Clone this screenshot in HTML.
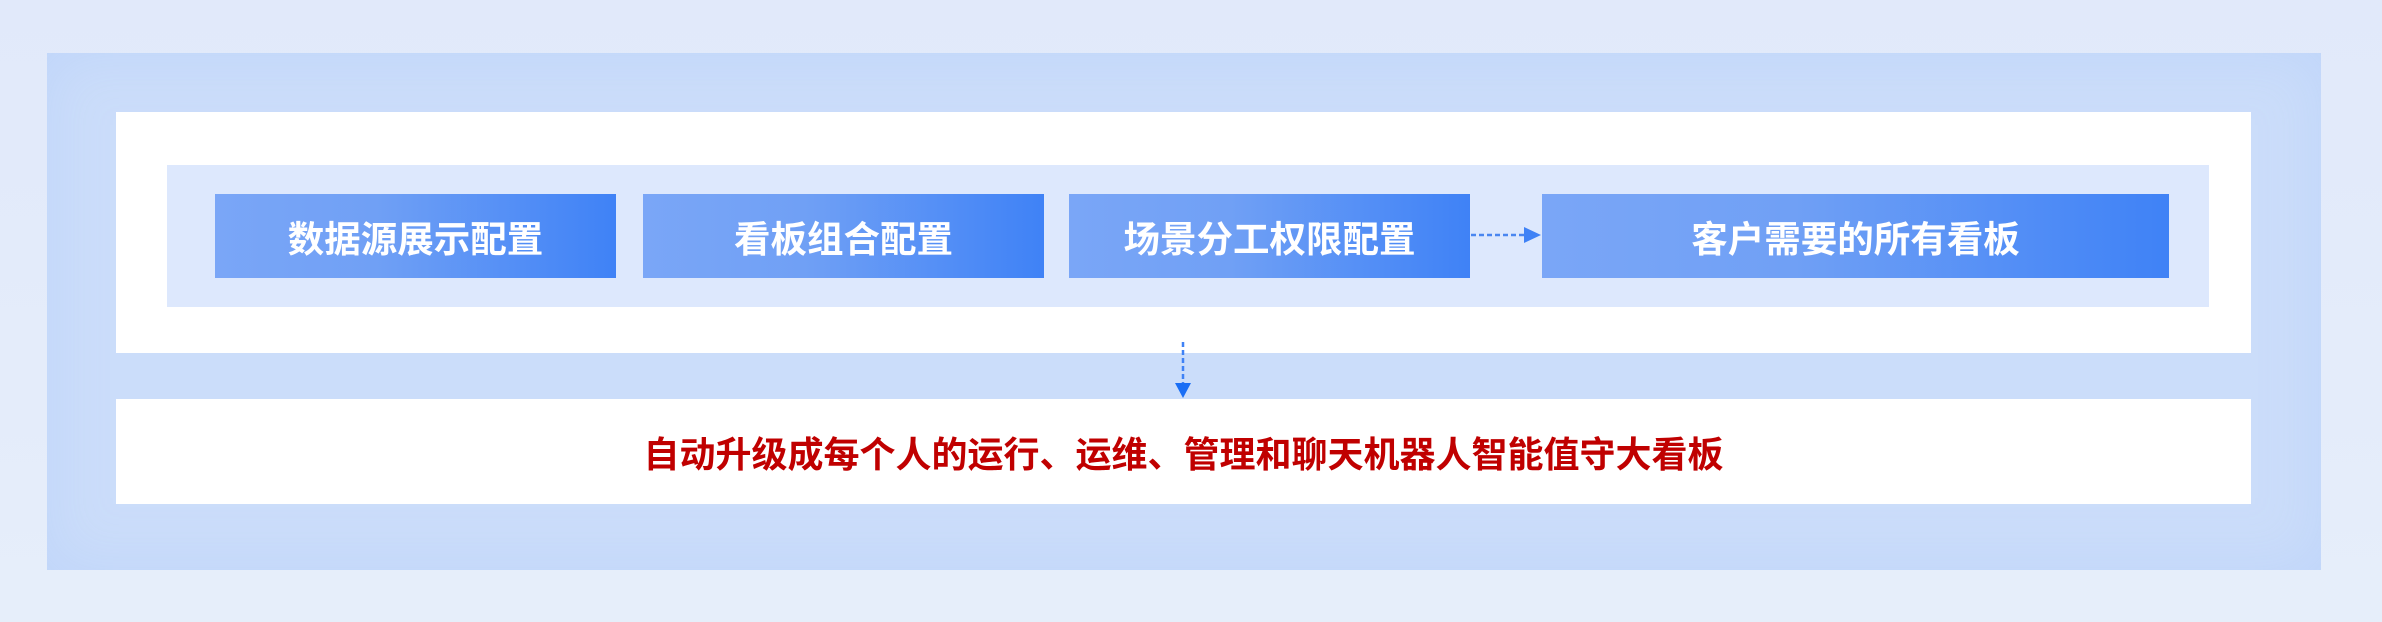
<!DOCTYPE html>
<html><head><meta charset="utf-8"><style>
body{margin:0;width:2382px;height:622px;background:linear-gradient(#e1e9fa,#e6eefa);position:relative;overflow:hidden;font-family:"Liberation Sans","Noto Sans CJK SC",sans-serif;}
div{position:absolute;box-sizing:border-box}
.band{left:47px;top:53px;width:2274px;height:517px;background:#cbddfa;box-shadow:inset 0 0 60px rgba(190,212,250,0.9)}
.white{background:#fff;left:116px;width:2135px}
.inner{left:167px;top:165px;width:2042px;height:142px;background:#dde8fd}
.box{top:194px;height:84px;background:linear-gradient(90deg,#7aa6f7 0%,#70a0f5 40%,#3f82f6 100%);color:#fff;font-weight:bold;font-size:36.5px;display:flex;align-items:center;justify-content:center}
.red{color:#c00000;font-weight:bold;font-size:36px;display:flex;align-items:center;justify-content:center}
</style></head><body>
<div class="band"></div>
<div class="white" style="top:112px;height:241px"></div>
<div class="inner"></div>
<div class="box" style="left:215px;width:401px">数据源展示配置</div>
<div class="box" style="left:643px;width:401px">看板组合配置</div>
<div class="box" style="left:1069px;width:401px">场景分工权限配置</div>
<div class="box" style="left:1542px;width:627px">客户需要的所有看板</div>
<svg style="position:absolute;left:0;top:0" width="2382" height="622">
<line x1="1471" y1="235" x2="1526" y2="235" stroke="#4a86f0" stroke-width="2.5" stroke-dasharray="5,3"/>
<polygon points="1524,227 1541,235 1524,243" fill="#3f82f6"/>
<line x1="1183" y1="342" x2="1183" y2="384" stroke="#3f82f6" stroke-width="2.5" stroke-dasharray="5,3"/>
<polygon points="1175,383 1191,383 1183,398" fill="#1a6ef5"/>
</svg>
<div class="white red" style="top:399px;height:105px">自动升级成每个人的运行、运维、管理和聊天机器人智能值守大看板</div>
</body></html>
